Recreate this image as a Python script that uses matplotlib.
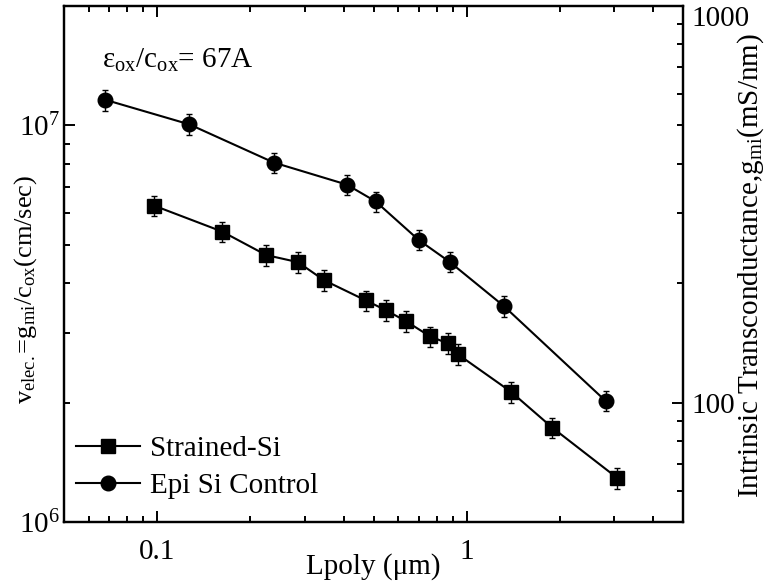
import matplotlib
matplotlib.use("Agg")
import matplotlib.pyplot as plt
from matplotlib.ticker import LogLocator, NullFormatter, FuncFormatter
from matplotlib.lines import Line2D

plt.rcParams['font.family'] = ['Liberation Serif', 'DejaVu Serif']
plt.rcParams['mathtext.fontset'] = 'custom'
plt.rcParams['mathtext.rm'] = 'Liberation Serif'
plt.rcParams['mathtext.it'] = 'Liberation Serif:italic'
plt.rcParams['font.size'] = 21

# gate length (um) and electron velocity g_mi/c_ox (cm/s)
strained_L = [0.098, 0.162, 0.225, 0.285, 0.346, 0.472, 0.548, 0.636, 0.76, 0.869, 0.935, 1.39, 1.89, 3.07]
strained_v = [6.27e6, 5.40e6, 4.71e6, 4.52e6, 4.07e6, 3.62e6, 3.42e6, 3.21e6, 2.94e6, 2.82e6, 2.65e6, 2.13e6, 1.73e6, 1.29e6]
strained_err = [0.37e6, 0.32e6, 0.28e6, 0.27e6, 0.24e6, 0.21e6, 0.2e6, 0.19e6, 0.17e6, 0.17e6, 0.16e6, 0.13e6, 0.1e6, 0.08e6]

control_L = [0.068, 0.127, 0.238, 0.410, 0.508, 0.70, 0.88, 1.32, 2.81]
control_v = [1.16e7, 1.006e7, 8.06e6, 7.09e6, 6.43e6, 5.14e6, 4.53e6, 3.50e6, 2.02e6]
control_err = [0.7e6, 0.6e6, 0.48e6, 0.42e6, 0.38e6, 0.3e6, 0.27e6, 0.21e6, 0.12e6]

# g_mi (mS/nm) = v * c_ox scaling
gm_scale = 5e-5

fig = plt.figure(figsize=(7.73, 5.82), dpi=100)
ax = fig.add_axes([0.0828, 0.1031, 0.8008, 0.8866])

ax.errorbar(strained_L, strained_v, yerr=strained_err, color='k', lw=1.5,
            marker='s', ms=10, capsize=2.5, elinewidth=1, label='Strained-Si')
ax.errorbar(control_L, control_v, yerr=control_err, color='k', lw=1.5,
            marker='o', ms=10.5, capsize=2.5, elinewidth=1, label='Epi Si Control')

ax.set_xscale('log')
ax.set_yscale('log')
ax.set_xlim(0.05, 5)
ax.set_ylim(1e6, 2e7)

ax.xaxis.set_major_locator(LogLocator(base=10))
ax.xaxis.set_minor_locator(LogLocator(base=10, subs=range(2, 10)))
ax.xaxis.set_minor_formatter(NullFormatter())
ax.xaxis.set_major_formatter(FuncFormatter(lambda v, p: '%g' % v))
ax.yaxis.set_minor_formatter(NullFormatter())

for s in ax.spines.values():
    s.set_linewidth(1.6)
ax.tick_params(which='both', direction='in', top=True, right=False, width=1.4)
ax.tick_params(which='major', length=8)
ax.tick_params(which='minor', length=4.5)
ax.tick_params(axis='x', which='major', pad=12)
ax.tick_params(axis='y', which='major', pad=3)

ax.set_xlabel('Lpoly (μm)', labelpad=-8)
ax.set_ylabel(r'v$_{\mathrm{elec.}}$=g$_{\mathrm{mi}}$/c$_{\mathrm{ox}}$(cm/sec)', fontsize=19)
ax.yaxis.set_label_coords(-0.04, 0.45)

ax2 = ax.twinx()
ax2.set_yscale('log')
ax2.set_ylim(1e6 * gm_scale, 2e7 * gm_scale)
ax2.set_yticks([100, 1000])
ax2.yaxis.set_minor_formatter(NullFormatter())
ax2.yaxis.set_major_formatter(FuncFormatter(lambda v, p: '%g' % v))
ax2.tick_params(which='both', direction='in', width=1.4)
ax2.tick_params(which='major', length=8, pad=6)
ax2.tick_params(which='minor', length=4.5)
for s in ax2.spines.values():
    s.set_linewidth(1.6)
ax2.yaxis.get_major_ticks()[1].label2.set_va('top')
ax2.set_ylabel(r'Intrinsic Transconductance,g$_{\mathrm{mi}}$(mS/nm)')
ax2.yaxis.set_label_coords(1.085, 0.496)

ax.text(0.061, 0.881, r'ε$_{\mathrm{ox}}$/c$_{\mathrm{ox}}$= 67A', transform=ax.transAxes)

handles = [Line2D([], [], color='k', lw=1.5, marker='s', ms=10),
           Line2D([], [], color='k', lw=1.5, marker='o', ms=10.5)]
ax.legend(handles, ['Strained-Si', 'Epi Si Control'], loc='lower left',
          frameon=False, handlelength=2.2, handletextpad=0.35,
          labelspacing=0.35, borderaxespad=0, bbox_to_anchor=(0.0, 0.022))

fig.savefig('out.png', dpi=100)
